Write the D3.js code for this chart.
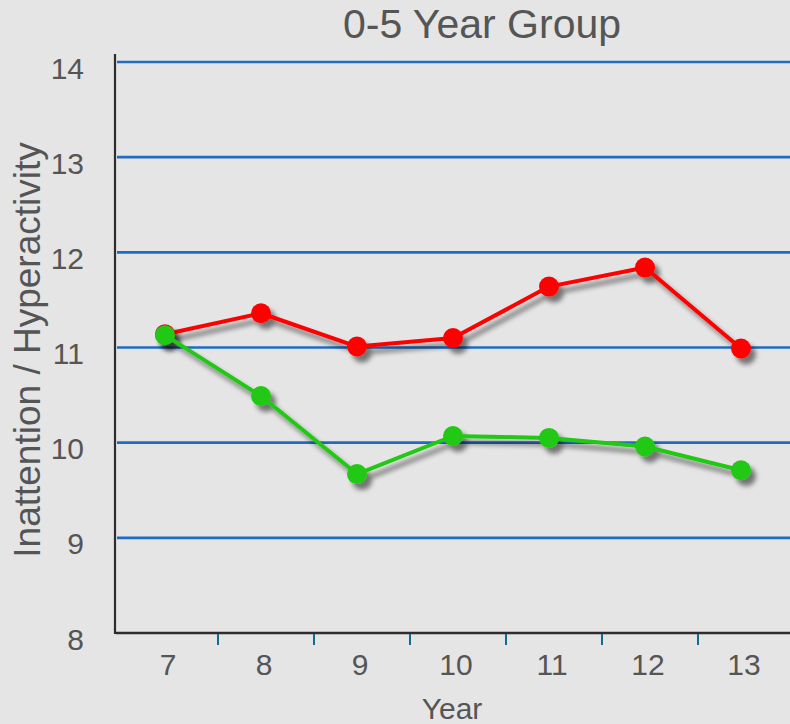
<!DOCTYPE html>
<html>
<head>
<meta charset="utf-8">
<script src="https://cdn.jsdelivr.net/npm/d3@7/dist/d3.min.js"></script>
<style>
  html, body { margin: 0; padding: 0; background: #e5e5e5; }
  svg { display: block; font-family: "Liberation Sans", Arial, sans-serif; }
</style>
</head>
<body>
<svg id="chart" width="790" height="724"></svg>
<script>
// Survey years on the x axis
const years = ["7", "8", "9", "10", "11", "12", "13"];
// Mean inattention / hyperactivity scores per year
const redSeries = [11.14, 11.36, 11.01, 11.10, 11.64, 11.84, 10.99];
const greenSeries = [11.13, 10.49, 9.67, 10.07, 10.05, 9.96, 9.71];
// Value axis ticks
const yTicks = [8, 9, 10, 11, 12, 13, 14];

const titleText = "0-5 Year Group";
const yLabel = "Inattention / Hyperactivity";
const xLabel = "Year";

const svg = d3.select("#chart");
const W = 790, H = 724;

svg.append("rect").attr("width", W).attr("height", H).attr("fill", "#e5e5e5");

const x = d3.scaleBand().domain(years).range([117, 789]).paddingInner(0).paddingOuter(0);
const y = d3.scaleLinear().domain([8, 14]).range([633, 62]);

// Soft drop shadow for the data series
const defs = svg.append("defs");
const f = defs.append("filter").attr("id", "shadow")
  .attr("x", "-20%").attr("y", "-20%").attr("width", "140%").attr("height", "140%");
f.append("feGaussianBlur").attr("in", "SourceAlpha").attr("stdDeviation", 2.6).attr("result", "b");
f.append("feOffset").attr("in", "b").attr("dx", 5).attr("dy", 6).attr("result", "o");
f.append("feComponentTransfer").attr("in", "o").attr("result", "s")
  .append("feFuncA").attr("type", "linear").attr("slope", 0.5);
const m = f.append("feMerge");
m.append("feMergeNode").attr("in", "s");
m.append("feMergeNode").attr("in", "SourceGraphic");

// Title
svg.append("text")
  .attr("x", 482).attr("y", 37.5)
  .attr("text-anchor", "middle")
  .attr("font-size", 41).attr("fill", "#555")
  .text(titleText);

// Horizontal gridlines (skip the baseline)
svg.append("g").selectAll("line")
  .data(yTicks.filter(d => d !== 8))
  .join("line")
  .attr("x1", 117).attr("x2", W)
  .attr("y1", d => y(d)).attr("y2", d => y(d))
  .attr("stroke", "#1f6cc2").attr("stroke-width", 2.6);

// Y axis
const yAxis = d3.axisLeft(y).tickValues(yTicks).tickSize(0).tickPadding(0).tickFormat(d3.format("d"));
const gy = svg.append("g").attr("transform", "translate(115,0)").call(yAxis);
gy.select(".domain").remove();
gy.selectAll("text")
  .attr("x", -31).attr("dy", null).attr("y", 16)
  .attr("font-size", 30).attr("fill", "#555")
  .attr("font-family", "Liberation Sans, Arial, sans-serif");
svg.append("line")
  .attr("x1", 115).attr("x2", 115).attr("y1", 54).attr("y2", 634)
  .attr("stroke", "#2d2d2d").attr("stroke-width", 2.2);

// X axis
const gx = svg.append("g").attr("transform", "translate(0,633)")
  .call(d3.axisBottom(x).tickSize(0).tickPadding(0));
gx.select(".domain").remove();
gx.selectAll("text")
  .attr("dx", 3).attr("y", 42).attr("dy", null)
  .attr("font-size", 30).attr("fill", "#555")
  .attr("font-family", "Liberation Sans, Arial, sans-serif");
svg.append("line")
  .attr("x1", 116).attr("x2", W).attr("y1", 633).attr("y2", 633)
  .attr("stroke", "#2d2d2d").attr("stroke-width", 2.6);

// Tick marks between categories
svg.append("g").selectAll("line")
  .data(years.slice(1))
  .join("line")
  .attr("x1", d => x(d) + 5).attr("x2", d => x(d) + 5)
  .attr("y1", 634).attr("y2", 645)
  .attr("stroke", "#1a6a84").attr("stroke-width", 2);

// Axis titles
svg.append("text")
  .attr("transform", "translate(40,350) rotate(-90)")
  .attr("text-anchor", "middle")
  .attr("font-size", 37).attr("fill", "#555")
  .text(yLabel);
svg.append("text")
  .attr("x", 452).attr("y", 719)
  .attr("text-anchor", "middle")
  .attr("font-size", 30).attr("fill", "#555")
  .text(xLabel);

// Series
const line = d3.line().x((d, i) => x(years[i]) + x.bandwidth() / 2).y(d => y(d));
const series = [
  { values: redSeries, color: "#ff0000" },
  { values: greenSeries, color: "#22c812" }
];
series.forEach(s => {
  const g = svg.append("g").attr("filter", "url(#shadow)");
  g.append("path").datum(s.values)
    .attr("d", line).attr("fill", "none")
    .attr("stroke", s.color).attr("stroke-width", 4)
    .attr("stroke-linejoin", "round");
  g.selectAll("circle").data(s.values).join("circle")
    .attr("cx", (d, i) => x(years[i]) + x.bandwidth() / 2)
    .attr("cy", d => y(d))
    .attr("r", 10)
    .attr("fill", s.color);
});
</script>
</body>
</html>
